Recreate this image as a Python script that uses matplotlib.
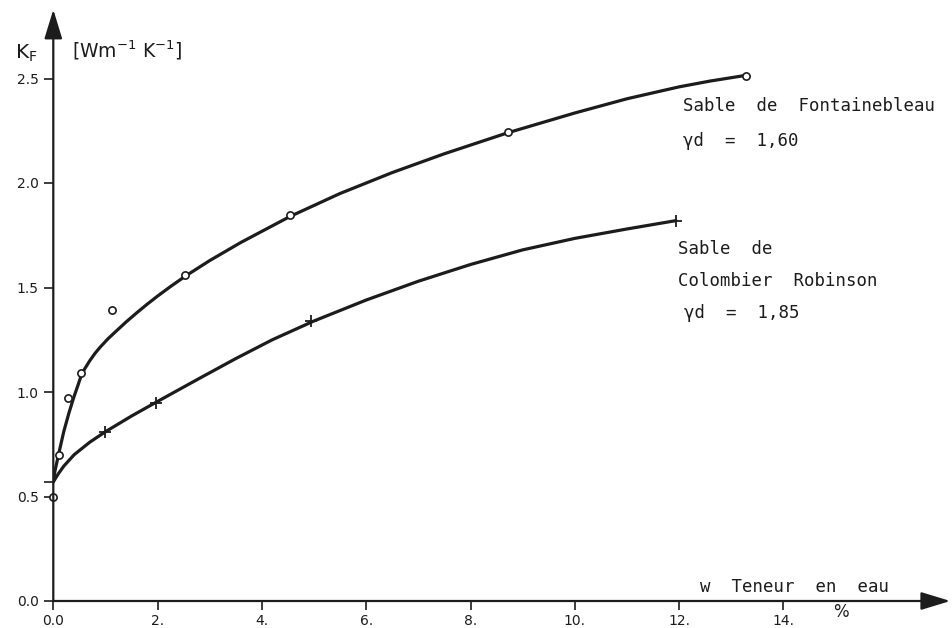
import numpy as np
import matplotlib
matplotlib.use("Agg")
import matplotlib.pyplot as plt

# mesures (points)
w_font = [0.0, 0.1, 0.275, 0.53, 1.12, 2.53, 4.54, 8.71, 13.28]
k_font = [0.50, 0.70, 0.97, 1.09, 1.39, 1.56, 1.845, 2.245, 2.51]

w_col = [0.99, 1.96, 4.95, 11.94]
k_col = [0.81, 0.945, 1.34, 1.82]

# courbes tracees a la main
w_font_c = [0, 0.03, 0.1, 0.2, 0.3, 0.4, 0.47, 0.53, 0.6, 0.7, 0.8, 0.9, 1.05,
            1.2, 1.4, 1.6, 1.8, 2.0, 2.25, 2.53, 3.0, 3.6, 4.54, 5.5, 6.5,
            7.5, 8.71, 10.0, 11.0, 12.0, 12.6, 13.28]
k_font_c = [0.57, 0.62, 0.70, 0.81, 0.90, 0.98, 1.03, 1.075, 1.11, 1.15, 1.185,
            1.215, 1.255, 1.29, 1.336, 1.379, 1.42, 1.459, 1.505, 1.554, 1.629,
            1.716, 1.84, 1.95, 2.05, 2.14, 2.24, 2.335, 2.403, 2.46, 2.488,
            2.515]

w_col_c = [0, 0.05, 0.1, 0.2, 0.4, 0.7, 1.0, 1.5, 2.0, 2.8, 3.5, 4.2, 5.0, 6.0,
           7.0, 8.0, 9.0, 10.0, 11.0, 11.94]
k_col_c = [0.57, 0.59, 0.61, 0.645, 0.70, 0.76, 0.81, 0.885, 0.955, 1.065,
           1.16, 1.25, 1.34, 1.44, 1.53, 1.61, 1.68, 1.735, 1.78, 1.82]

xticks = [0, 2, 4, 6, 8, 10, 12, 14]
xlabels = ["0.0", "2.", "4.", "6.", "8.", "10.", "12.", "14."]
yticks = [0.0, 0.5, 1.0, 1.5, 2.0, 2.5]
ylabels = ["0.0", "0.5", "1.0", "1.5", "2.0", "2.5"]

ink = "#1c1c1c"
xmax, ymax = 17.2, 2.82
mono = "DejaVu Sans Mono"

fig = plt.figure(figsize=(9.52, 6.28), dpi=100)
ax = fig.add_axes([53.3 / 952, 27 / 628, xmax * 52.15 / 952, ymax * 209 / 628])
ax.set_xlim(0, xmax)
ax.set_ylim(0, ymax)
for s in ax.spines.values():
    s.set_visible(False)

ax.plot(w_font_c, k_font_c, color=ink, lw=2.3, solid_capstyle="round",
        solid_joinstyle="round", zorder=2)
ax.plot(w_col_c, k_col_c, color=ink, lw=2.3, solid_capstyle="round",
        solid_joinstyle="round", zorder=2)
ax.plot(w_font, k_font, "o", ms=5.2, mfc="white", mec=ink, mew=1.2,
        clip_on=False, zorder=3)
ax.plot(w_col, k_col, "+", ms=9, mec=ink, mew=1.3, clip_on=False, zorder=3)

# axes avec fleches
arrow = dict(arrowstyle="-|>,head_length=1.8,head_width=0.55", color=ink,
             lw=1.6, mutation_scale=10, shrinkA=0, shrinkB=0)
ax.annotate("", xy=(xmax, 0), xytext=(0, 0), arrowprops=arrow,
            annotation_clip=False)
ax.annotate("", xy=(0, ymax + 0.01), xytext=(0, 0), arrowprops=arrow,
            annotation_clip=False)

ax.set_xticks(xticks)
ax.set_xticklabels(xlabels)
ax.set_yticks(yticks)
ax.set_yticklabels(ylabels)
ax.set_yticks([0.57], minor=True)
ax.tick_params(axis="both", direction="out", length=6.5, width=1.2,
               color=ink, labelcolor=ink, labelsize=10)
ax.tick_params(axis="x", pad=3)
ax.tick_params(axis="y", pad=4)
ax.tick_params(axis="y", which="minor", length=6.5, width=1.2, color=ink)

ax.text(-0.3, 2.62, r"$\mathregular{K_F}$", fontsize=14.5, ha="right",
        va="center", color=ink)
ax.text(0.35, 2.635, r"$\mathregular{[Wm^{-1}\ K^{-1}]}$", fontsize=13.5,
        ha="left", va="center", color=ink)

ax.text(12.4, 0.065, "w  Teneur  en  eau", fontsize=12.5, family=mono,
        ha="left", va="center", color=ink)
ax.text(14.95, -0.055, "%", fontsize=12, ha="left", va="center", color=ink)

ax.text(12.08, 2.37, "Sable  de  Fontainebleau", fontsize=12.5, family=mono,
        ha="left", va="center", color=ink)
ax.text(12.08, 2.2, "\u03b3d  =  1,60", fontsize=12.5, family=mono,
        ha="left", va="center", color=ink)

ax.text(11.98, 1.685, "Sable  de", fontsize=12.5, family=mono, ha="left",
        va="center", color=ink)
ax.text(11.98, 1.53, "Colombier  Robinson", fontsize=12.5, family=mono,
        ha="left", va="center", color=ink)
ax.text(12.1, 1.38, "\u03b3d  =  1,85", fontsize=12.5, family=mono, ha="left",
        va="center", color=ink)

fig.savefig("out.png", dpi=100, facecolor="white")
